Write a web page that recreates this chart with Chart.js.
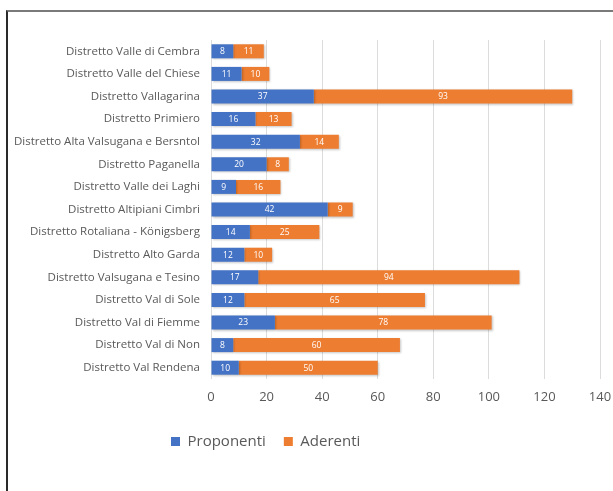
<!DOCTYPE html>
<html>
<head>
<meta charset="utf-8">
<script src="https://cdn.jsdelivr.net/npm/chart.js@4/dist/chart.umd.min.js"></script>
<style>
  html, body { margin: 0; padding: 0; background: #fff; }
  #wrap { position: relative; width: 613px; height: 491px; overflow: hidden; }
  #frame { position: absolute; left: 6px; top: 10px; right: -10px; bottom: -10px;
           border-left: 2px solid #2a2a2a; border-top: 2px solid #7a7a7a; pointer-events: none; }
  canvas { position: absolute; left: 0; top: 0; }
</style>
</head>
<body>
<div id="wrap">
  <canvas id="c" width="613" height="491"></canvas>
  <div id="frame"></div>
</div>
<script>
const categories = [
  "Distretto Valle di Cembra",
  "Distretto Valle del Chiese",
  "Distretto Vallagarina",
  "Distretto Primiero",
  "Distretto Alta Valsugana e Bersntol",
  "Distretto Paganella",
  "Distretto Valle dei Laghi",
  "Distretto Altipiani Cimbri",
  "Distretto Rotaliana - Königsberg",
  "Distretto Alto Garda",
  "Distretto Valsugana e Tesino",
  "Distretto Val di Sole",
  "Distretto Val di Fiemme",
  "Distretto Val di Non",
  "Distretto Val Rendena"
];
const proponenti = [8, 11, 37, 16, 32, 20, 9, 42, 14, 12, 17, 12, 23, 8, 10];
const aderenti   = [11, 10, 93, 13, 14, 8, 16, 9, 25, 10, 94, 65, 78, 60, 50];
const xTicks = [0, 20, 40, 60, 80, 100, 120, 140];

const FONT = "'Open Sans', 'DejaVu Sans', sans-serif";

const barLabels = {
  id: 'barLabels',
  afterDatasetsDraw(chart) {
    const ctx = chart.ctx;
    ctx.save();
    ctx.fillStyle = '#ffffff';
    ctx.font = "8.5px " + FONT;
    ctx.textAlign = 'center';
    ctx.textBaseline = 'middle';
    chart.data.datasets.forEach((ds, di) => {
      const meta = chart.getDatasetMeta(di);
      meta.data.forEach((el, i) => {
        const v = ds.data[i];
        const p = el.getProps(['x', 'y', 'base'], true);
        ctx.fillText(String(v), (p.x + p.base) / 2, p.y + 0.5);
      });
    });
    ctx.restore();
  }
};

const shadow = {
  id: 'shadow',
  beforeDatasetsDraw(chart) {
    const ctx = chart.ctx;
    ctx.save();
    ctx.shadowColor = 'rgba(0,0,0,0.22)';
    ctx.shadowBlur = 2;
    ctx.shadowOffsetX = 1;
    ctx.shadowOffsetY = 1;
  },
  afterDatasetsDraw(chart) {
    chart.ctx.restore();
  }
};

const legendPos = {
  id: 'legendPos',
  afterLayout(chart) {
    const lg = chart.legend;
    const w = lg.right - lg.left;
    lg.left = 153;
    lg.right = 153 + w;
  }
};

new Chart(document.getElementById('c'), {
  type: 'bar',
  data: {
    labels: categories,
    datasets: [
      { label: 'Proponenti', data: proponenti, backgroundColor: '#4472C4', borderWidth: 0,
        barPercentage: 0.62, categoryPercentage: 1.0 },
      { label: 'Aderenti', data: aderenti, backgroundColor: '#ED7D31', borderWidth: 0,
        barPercentage: 0.62, categoryPercentage: 1.0 }
    ]
  },
  options: {
    indexAxis: 'y',
    responsive: false,
    animation: false,
    devicePixelRatio: 1,
    layout: { padding: { left: 14, right: 13, top: 40, bottom: 32 } },
    scales: {
      x: {
        stacked: true,
        min: 0, max: 140,
        afterBuildTicks(scale) { scale.ticks = xTicks.map(v => ({ value: v })); },
        grid: { color: '#dcdcdc', lineWidth: 1, drawTicks: false },
        border: { display: false },
        ticks: { color: '#595959', font: { family: FONT, size: 13 }, padding: 10 },
        afterFit(scale) { scale.height = 37; scale.paddingRight = 0; scale.paddingLeft = 0; }
      },
      y: {
        stacked: true,
        grid: { display: false, drawTicks: false },
        border: { display: false },
        ticks: { color: '#595959', font: { family: FONT, size: 11.5 }, padding: 11, autoSkip: false },
        afterFit(scale) { scale.width = 197; }
      }
    },
    plugins: {
      legend: {
        position: 'bottom',
        align: 'start',
        labels: { boxWidth: 9, boxHeight: 9, color: '#595959', font: { family: FONT, size: 15 }, padding: 18 }
      },
      tooltip: { enabled: false }
    }
  },
  plugins: [shadow, barLabels, legendPos]
});
</script>
</body>
</html>
